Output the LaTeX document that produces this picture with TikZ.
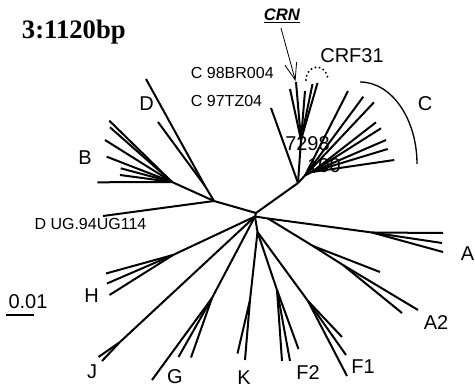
\documentclass[tikz,border=0pt]{standalone}
\usepackage{fontspec}
\setmainfont{Liberation Sans}
\newfontfamily\titlefont{Liberation Serif}
\usetikzlibrary{arrows.meta}
\begin{document}
\begin{tikzpicture}[x=0.75pt,y=-0.75pt,
  branch/.style={line width=1.5pt},
  clade/.style={font=\fontsize{15}{15}\selectfont, inner sep=0pt},
  strain/.style={font=\fontsize{12}{12}\selectfont, inner sep=0pt, anchor=west},
  bracket/.style={line width=1pt},
  marker/.style={line width=1.6pt, dash pattern=on 0pt off 3.2pt, line cap=round},
  pointer/.style={line width=0.6pt, -{Straight Barb[length=12.5pt,width=9pt,line width=0.6pt]}},
]
\useasboundingbox (0,0) rectangle (475,392);

% ---- labels (drawn first, so branches lie on top) ----
\node[anchor=base west, inner sep=0pt, font=\titlefont\bfseries\fontsize{20}{20}\selectfont] (title) at (21.7,39) {3:1120bp};
\node[anchor=base west, inner sep=0pt, font=\bfseries\itshape\fontsize{12.5}{12.5}\selectfont] (crn) at (263.5,20.7) {\underline{CRN}};
\node[clade] (lcrf) at (352,55.5) {CRF31};
\node[clade] (lc) at (425,103.5) {C};
\node[clade] (boot1) at (307.5,143.5) {7298};
\node[clade] (boot2) at (324,166) {100};
\node[clade] (la) at (467.5,254) {A};
\node[clade] (la2) at (436,323) {A2};
\node[clade] (lf1) at (363,367) {F1};
\node[clade] (lf2) at (308,372.5) {F2};
\node[clade] (lk) at (244,377.5) {K};
\node[clade] (lg) at (175,377) {G};
\node[clade] (lj) at (92,372) {J};
\node[clade] (lh) at (91.5,295.5) {H};
\node[clade] (lb) at (85,157.5) {B};
\node[clade] (ld) at (146.5,103.5) {D};
\node[clade] (lscale) at (28,302) {0.01};
\node[strain] (s1) at (190.7,72.5) {C 98BR004};
\node[strain] (s2) at (190.7,101) {C 97TZ04};
\node[strain] (s3) at (34.3,224) {D UG.94UG114};

% ---- internal nodes ----
\coordinate (R) at (256,213);
\coordinate (L) at (255,216.5);
\coordinate (P) at (268,218.5);
\coordinate (An) at (372,232.5);
\coordinate (A2a) at (313,246);
\coordinate (A2b) at (343,265);
\coordinate (M) at (257.5,232);
\coordinate (F1n) at (308,301);
\coordinate (F2n) at (277,290);
\coordinate (Kn) at (250,300);
\coordinate (Gn) at (212,298);
\coordinate (Jn) at (120,342);
\coordinate (Hn) at (173,255);
\coordinate (NBD) at (214,201);
\coordinate (Dn) at (205,186);
\coordinate (Bn) at (172,182);
\coordinate (NC) at (298,183);
\coordinate (CRNn) at (301,140);
\coordinate (C1n) at (305,175.5);
\coordinate (C2n) at (312,172);

% ---- leaves ----
\coordinate (a1) at (443,233);
\coordinate (a2) at (442,243);
\coordinate (a3) at (443,252);
\coordinate (a21) at (380,272);
\coordinate (a22) at (402,313);
\coordinate (a23) at (418,310);
\coordinate (f11) at (342,337);
\coordinate (f12) at (346,355);
\coordinate (f13) at (347,376);
\coordinate (f21) at (282,361);
\coordinate (f22) at (290,361);
\coordinate (f23) at (298.5,349);
\coordinate (k1) at (237.5,353.5);
\coordinate (k2) at (245,360);
\coordinate (g1) at (152,380);
\coordinate (g2) at (178.5,357);
\coordinate (g3) at (191,357.5);
\coordinate (j1) at (98.5,357);
\coordinate (j2) at (102,361);
\coordinate (h1) at (106,273.5);
\coordinate (h2) at (107,283.5);
\coordinate (h3) at (109.5,295);
\coordinate (dug) at (103,216);
\coordinate (d1) at (146,79);
\coordinate (d2) at (158,122);
\coordinate (b1) at (109.3,120.7);
\coordinate (b2) at (110,127.3);
\coordinate (b3) at (105,140);
\coordinate (b4) at (106.7,156.7);
\coordinate (b5) at (120.7,168.3);
\coordinate (b6) at (120,175);
\coordinate (b7) at (97.3,182.3);
\coordinate (tz) at (271,108);
\coordinate (r1) at (290,89);
\coordinate (r2) at (296,82);
\coordinate (r3) at (305,91);
\coordinate (r4) at (312.5,84);
\coordinate (r5) at (317.5,83);
\coordinate (c1) at (348,91);
\coordinate (c2) at (363.3,96.7);
\coordinate (c3) at (374,102.3);
\coordinate (c4) at (376,122.3);
\coordinate (c5) at (381,128.3);
\coordinate (c6) at (386,140);
\coordinate (c7) at (387.7,149);
\coordinate (c8) at (394.3,160);

% ---- branches ----
\draw[branch] (R) -- (L);
\draw[branch] (R) -- (NBD);
\draw[branch] (R) -- (NC);
% A and A2
\draw[branch] (L) -- (P) -- (An);
\foreach \t in {a1,a2,a3} \draw[branch] (An) -- (\t);
\draw[branch] (P) -- (A2a) -- (a21);
\draw[branch] (A2a) -- (A2b);
\foreach \t in {a22,a23} \draw[branch] (A2b) -- (\t);
% F1, F2, K
\draw[branch] (L) -- (M);
\draw[branch] (M) -- (F1n);
\foreach \t in {f11,f12,f13} \draw[branch] (F1n) -- (\t);
\draw[branch] (M) -- (F2n);
\foreach \t in {f21,f22,f23} \draw[branch] (F2n) -- (\t);
\draw[branch] (M) -- (Kn);
\foreach \t in {k1,k2} \draw[branch] (Kn) -- (\t);
% G, J, H
\draw[branch] (L) -- (Gn);
\foreach \t in {g1,g2,g3} \draw[branch] (Gn) -- (\t);
\draw[branch] (L) -- (Jn);
\foreach \t in {j1,j2} \draw[branch] (Jn) -- (\t);
\draw[branch] (L) -- (Hn);
\foreach \t in {h1,h2,h3} \draw[branch] (Hn) -- (\t);
% D and B
\draw[branch] (NBD) -- (dug);
\draw[branch] (NBD) -- (Dn);
\foreach \t in {d1,d2} \draw[branch] (Dn) -- (\t);
\draw[branch] (NBD) -- (Bn);
\foreach \t in {b1,b2,b3,b4,b5,b6,b7} \draw[branch] (Bn) -- (\t);
% C
\draw[branch] (NC) -- (tz);
\draw[branch] (NC) -- (CRNn);
\foreach \t in {r1,r2,r3,r4,r5} \draw[branch] (CRNn) -- (\t);
\draw[branch] (NC) -- (C1n);
\foreach \t in {c1,c2,c3} \draw[branch] (C1n) -- (\t);
\draw[branch] (C1n) -- (C2n);
\foreach \t in {c4,c5,c6,c7,c8} \draw[branch] (C2n) -- (\t);

% ---- annotations ----
\coordinate (crnTail) at (281,28);
\coordinate (crnTip) at (295.5,81);
\draw[pointer] (crnTail) -- (crnTip);
\coordinate (crfL) at (306,80);
\draw[marker] (crfL) arc[start angle=180, end angle=360, x radius=11, y radius=13];
\coordinate (cTop) at (360,82);
\draw[bracket] (cTop) arc[start angle=270, end angle=360, x radius=57, y radius=82];
\coordinate (sbL) at (6,315);
\coordinate (sbR) at (34,315);
\draw[line width=1.2pt] (sbL) -- (sbR);
\end{tikzpicture}
\end{document}
